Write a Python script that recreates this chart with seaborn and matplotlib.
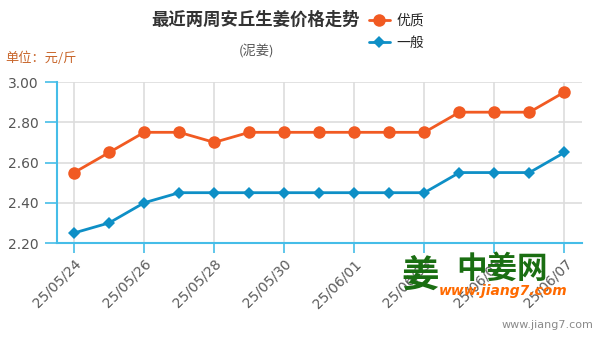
import matplotlib
matplotlib.use("Agg")
import matplotlib.pyplot as plt
import seaborn as sns
import pandas as pd
import numpy as np

dates = ["25/05/24", "25/05/25", "25/05/26", "25/05/27", "25/05/28", "25/05/29",
         "25/05/30", "25/05/31", "25/06/01", "25/06/02", "25/06/03", "25/06/04",
         "25/06/05", "25/06/06", "25/06/07"]
premium = [2.55, 2.65, 2.75, 2.75, 2.70, 2.75, 2.75, 2.75, 2.75, 2.75, 2.75, 2.85, 2.85, 2.85, 2.95]
ordinary = [2.25, 2.30, 2.40, 2.45, 2.45, 2.45, 2.45, 2.45, 2.45, 2.45, 2.45, 2.55, 2.55, 2.55, 2.65]
series_names = ["优质", "一般"]
y_ticks = [2.20, 2.40, 2.60, 2.80, 3.00]

sns.set_theme(style="white")
plt.rcParams['font.family'] = ['Noto Sans CJK SC', 'DejaVu Sans']

W, H = 601, 340
fig = plt.figure(figsize=(W / 100, H / 100), dpi=100)
ax = fig.add_axes([57 / W, 1 - 243 / H, (582 - 57) / W, (243 - 82) / H])

orange = "#f15a22"
blue = "#0e8fc6"
axis_blue = "#45bde8"

df = pd.DataFrame({
    "idx": list(range(len(dates))) * 2,
    "price": premium + ordinary,
    "series": [series_names[0]] * len(dates) + [series_names[1]] * len(dates),
})

sns.lineplot(data=df[df.series == series_names[0]], x="idx", y="price", ax=ax,
             color=orange, marker="o", markersize=9, markeredgewidth=0,
             linewidth=2, label=series_names[0], legend=False)
sns.lineplot(data=df[df.series == series_names[1]], x="idx", y="price", ax=ax,
             color=blue, marker="D", markersize=6.5, markeredgewidth=0,
             linewidth=2, label=series_names[1], legend=False)

ax.set_xlim(-0.49, 14.5)
ax.set_ylim(2.20, 3.00)
ax.set_yticks(y_ticks)
ax.set_yticklabels([f"{v:.2f}" for v in y_ticks], fontsize=10, color="#555555",
                   family=['DejaVu Sans'])
xt = list(range(0, len(dates), 2))
ax.set_xticks(xt)
ax.set_xticklabels([dates[i] for i in xt], rotation=45, ha="right",
                   rotation_mode="anchor", fontsize=10, color="#5a5a5a",
                   family=['DejaVu Sans'])
ax.set_xlabel("")
ax.set_ylabel("")

ax.grid(True, color="#dddddd", linewidth=1.2)
ax.set_axisbelow(True)
for s in ["top", "right"]:
    ax.spines[s].set_visible(False)
for s in ["left", "bottom"]:
    ax.spines[s].set_color(axis_blue)
    ax.spines[s].set_linewidth(1.5)
ax.tick_params(axis="y", which="both", left=True, length=9, width=1.2, color=axis_blue, pad=4)
ax.tick_params(axis="x", which="both", bottom=True, length=7, width=1.2, color=axis_blue, pad=3)

fig.text(256 / W, 1 - 20 / H, "最近两周安丘生姜价格走势", ha="center", va="center",
         fontsize=12.5, fontweight="bold", color="#333333")
fig.text(256 / W, 1 - 52 / H, "(泥姜)", ha="center", va="center",
         fontsize=9.5, color="#555555")
fig.text(5 / W, 1 - 58 / H, "单位：元/斤", ha="left", va="center",
         fontsize=9.5, color="#c8652a")

handles, labels = ax.get_legend_handles_labels()
fig.legend(handles, labels, loc="upper left", bbox_to_anchor=(369 / W, 1 - 14 / H),
           frameon=False, fontsize=10, handlelength=1.5, handletextpad=0.5,
           labelspacing=0.55, borderaxespad=0, borderpad=0)

# watermark
fig.text(420 / W, 1 - 275 / H, "姜", ha="center", va="center", fontsize=27,
         fontweight="bold", color="#1a6e12")
fig.text(502 / W, 1 - 269 / H, "中姜网", ha="center", va="center", fontsize=22,
         fontweight="bold", color="#1a6e12")
fig.text(503 / W, 1 - 291 / H, "www.jiang7.com", ha="center", va="center", fontsize=10,
         fontweight="bold", fontstyle="italic", color="#ff6a00", family=['DejaVu Sans'])
fig.text(593 / W, 1 - 325 / H, "www.jiang7.com", ha="right", va="center", fontsize=8,
         color="#8a8a8a", family=['DejaVu Sans'])

fig.savefig("out.png", dpi=100)
